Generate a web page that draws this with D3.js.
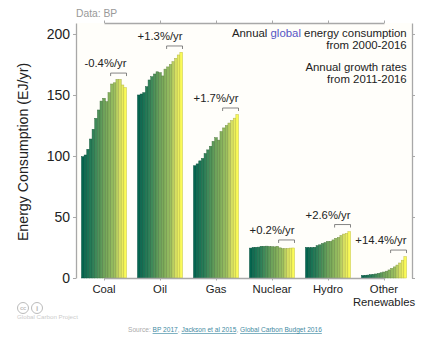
<!DOCTYPE html>
<html>

<head>
  <title>Global energy consumption</title>
  <script src="https://cdn.jsdelivr.net/npm/d3@7"></script>
  <style>
    html, body { margin: 0; padding: 0; background: #fff; }
    svg { display: block; font-family: "Liberation Sans", Arial, sans-serif; }
  </style>
</head>

<body>
  <svg width="444" height="354" id="chart"></svg>
  <script>
    const categories = ['Coal', 'Oil', 'Gas', 'Nuclear', 'Hydro', 'Other Renewables'];
    const years = [2000, 2001, 2002, 2003, 2004, 2005, 2006, 2007, 2008, 2009, 2010, 2011, 2012, 2013, 2014, 2015, 2016];

    // EJ/yr
    const coal = [99.4, 100.8, 105.5, 113.9, 121.9, 130.9, 137.7, 145, 147.3, 144.5, 151.9, 159, 160, 162.8, 162.8, 158.2, 156];
    const oil = [150, 150.8, 151.9, 156.8, 162.3, 165, 167.2, 169, 168.3, 165.6, 171.2, 173, 175, 177.3, 180, 182.8, 185];
    const gas = [92, 93.5, 96, 98, 102, 105, 108, 112, 115, 113, 120, 123, 125, 127, 129, 131, 134];
    const nuclear = [24.5, 25, 25.2, 25.3, 26, 26, 26.1, 25.8, 25.7, 25.5, 26, 24.7, 24, 24, 24.2, 24.5, 24.6];
    const hydro = [25, 24.8, 25, 25.2, 26.5, 27.2, 28.3, 29, 30, 30, 31.2, 32.5, 33.2, 34.8, 36, 36.5, 38];
    const renewables = [2, 2.2, 2.4, 2.7, 3, 3.3, 3.8, 4.3, 4.9, 5.6, 6.6, 7.9, 9.1, 10.6, 12.3, 14.6, 17.5];
    const seriesValues = [coal, oil, gas, nuclear, hydro, renewables];

    const growthLabels = ['-0.4%/yr', '+1.3%/yr', '+1.7%/yr', '+0.2%/yr', '+2.6%/yr', '+14.4%/yr'];
    const growthFrom = 2011;
    const yTicks = [0, 50, 100, 150, 200];
    const colorYears = [2000, 2004, 2008, 2012, 2014, 2016];
    const colorStops = ['#056650', '#2f8259', '#6ea35a', '#9dc05f', '#d6df62', '#fbfb58'];
    const bracketGaps = [3.3, 3.3, 3.5, 4.9, 4.1, 3.6];

    const svg = d3.select('#chart');
    const margin = { top: 23, right: 32, bottom: 76, left: 76 };
    const innerWidth = 444 - margin.left - margin.right;
    const innerHeight = 354 - margin.top - margin.bottom;
    const mainGroup = svg.append('g')
      .attr('transform', `translate(${margin.left}, ${margin.top})`);

    const xScale = d3.scaleBand().domain(categories).range([0, innerWidth]).paddingInner(0.196).paddingOuter(0.098);
    const yearScale = d3.scaleBand().domain(years).range([0, xScale.bandwidth()]);
    const yScale = d3.scaleLinear().domain([0, 209]).range([innerHeight, 0]);
    const colorScale = d3.scaleLinear().domain(colorYears).range(colorStops);

    mainGroup.append('rect')
      .attr('width', innerWidth)
      .attr('height', innerHeight)
      .attr('fill', '#fffefa');

    // bars
    const groups = mainGroup.selectAll('.cat')
      .data(categories)
      .join('g')
      .attr('class', 'cat')
      .attr('transform', d => `translate(${xScale(d)}, 0)`);

    groups.selectAll('rect')
      .data((d, i) => seriesValues[i].map((v, j) => ({ year: years[j], value: v })))
      .join('rect')
      .attr('x', d => yearScale(d.year))
      .attr('width', yearScale.bandwidth())
      .attr('y', d => yScale(d.value))
      .attr('height', d => innerHeight - yScale(d.value))
      .attr('fill', d => colorScale(d.year))
      .attr('stroke', d => d3.color(colorScale(d.year)).darker(0.7))
      .attr('stroke-width', 0.5);

    // axes, all four sides with outward ticks, labels only on the left
    const axisColor = '#a8a8a8';
    const styleAxis = g => {
      g.selectAll('.domain').attr('stroke', axisColor).attr('stroke-width', 1.3);
      g.selectAll('.tick line').attr('stroke', axisColor);
    };
    const noLabels = g => g.selectAll('.tick text').remove();
    const xCenter = d3.scalePoint().domain(categories)
      .range([xScale(categories[0]) + xScale.bandwidth() / 2, xScale(categories[5]) + xScale.bandwidth() / 2]);

    mainGroup.append('g').attr('transform', `translate(0, ${innerHeight})`)
      .call(d3.axisBottom(xCenter).tickSize(2.5).tickSizeOuter(0))
      .call(styleAxis).call(noLabels);
    mainGroup.append('g')
      .call(d3.axisTop(xCenter).tickSize(2.5).tickSizeOuter(0))
      .call(styleAxis).call(noLabels);
    mainGroup.append('g').attr('transform', `translate(${innerWidth}, 0)`)
      .call(d3.axisRight(yScale).tickValues(yTicks).tickSize(3).tickSizeOuter(0))
      .call(styleAxis).call(noLabels);
    mainGroup.append('g')
      .call(d3.axisLeft(yScale).tickValues(yTicks).tickSize(3).tickSizeOuter(0).tickPadding(3))
      .call(styleAxis)
      .call(g => g.selectAll('text').attr('font-size', 14).attr('font-family', 'inherit').attr('fill', '#222'));

    // category labels
    const catLabels = mainGroup.selectAll('.cat-label')
      .data(categories)
      .join('text')
      .attr('class', 'cat-label')
      .attr('text-anchor', 'middle')
      .attr('font-size', 11.3)
      .attr('fill', '#222')
      .attr('y', innerHeight + 15);
    catLabels.selectAll('tspan')
      .data(d => d === 'Other Renewables' ? ['Other', 'Renewables'].map(t => ({ t, c: d })) : [{ t: d, c: d }])
      .join('tspan')
      .attr('x', d => xCenter(d.c))
      .attr('dy', (d, i) => i ? 13 : 0)
      .text(d => d.t);

    // growth brackets over the last six bars
    const growth = mainGroup.selectAll('.growth')
      .data(categories)
      .join('g')
      .attr('class', 'growth')
      .attr('transform', d => `translate(${xScale(d)}, 0)`);
    const bracketY = (d, i) => yScale(d3.max(seriesValues[i].slice(-6))) - bracketGaps[i];
    const bx0 = yearScale(growthFrom);
    const bx1 = yearScale(years[years.length - 1]) + yearScale.bandwidth();
    growth.append('path')
      .attr('fill', 'none')
      .attr('stroke', '#666')
      .attr('stroke-width', 0.8)
      .attr('d', (d, i) => {
        const y = bracketY(d, i);
        return `M${bx0},${y}V${y - 3}H${bx1}V${y}`;
      });
    growth.append('text')
      .attr('x', bx1)
      .attr('y', (d, i) => bracketY(d, i) - 9)
      .attr('text-anchor', 'end')
      .attr('font-size', 11.3)
      .attr('fill', '#222')
      .text((d, i) => growthLabels[i]);

    // notes in the top right corner
    const notes = svg.append('g')
      .attr('text-anchor', 'end')
      .attr('font-size', 11.4)
      .attr('fill', '#222');
    const line1 = notes.append('text').attr('x', 406.7).attr('y', 36.7);
    line1.append('tspan').text('Annual ');
    line1.append('tspan').attr('fill', '#5555c4').text('global');
    line1.append('tspan').text(' energy consumption');
    notes.append('text').attr('x', 406.7).attr('y', 48.7).text('from 2000-2016');
    notes.append('text').attr('x', 406.7).attr('y', 71.3).text('Annual growth rates');
    notes.append('text').attr('x', 406.7).attr('y', 83.3).text('from 2011-2016');

    svg.append('text')
      .attr('x', 76).attr('y', 17)
      .attr('font-size', 10.3)
      .attr('fill', '#999')
      .text('Data: BP');

    svg.append('text')
      .attr('transform', 'translate(28, 152) rotate(-90)')
      .attr('text-anchor', 'middle')
      .attr('font-size', 14.2)
      .attr('fill', '#222')
      .text('Energy Consumption (EJ/yr)');

    // licence badges and credit
    const badge = svg.append('g').attr('fill', 'none').attr('stroke', '#bbb').attr('stroke-width', 1);
    badge.selectAll('circle')
      .data([23, 37])
      .join('circle')
      .attr('cx', d => d)
      .attr('cy', 308)
      .attr('r', 5.5);
    svg.append('text').attr('x', 23).attr('y', 310).attr('text-anchor', 'middle')
      .attr('font-size', 5.5).attr('font-weight', 'bold').attr('fill', '#bbb').text('cc');
    svg.append('text').attr('x', 37).attr('y', 311).attr('text-anchor', 'middle')
      .attr('font-size', 8).attr('font-weight', 'bold').attr('fill', '#bbb').text('i');
    svg.append('text')
      .attr('x', 17).attr('y', 318.5)
      .attr('font-size', 6.2)
      .attr('fill', '#ccc')
      .text('Global Carbon Project');

    const source = svg.append('text')
      .attr('x', 128).attr('y', 332)
      .attr('font-size', 6.6)
      .attr('fill', '#aaa');
    source.append('tspan').text('Source: ');
    source.append('tspan').attr('fill', '#3f8ba3').attr('text-decoration', 'underline').text('BP 2017');
    source.append('tspan').text(', ');
    source.append('tspan').attr('fill', '#3f8ba3').attr('text-decoration', 'underline').text('Jackson et al 2015');
    source.append('tspan').text(', ');
    source.append('tspan').attr('fill', '#3f8ba3').attr('text-decoration', 'underline').text('Global Carbon Budget 2016');
  </script>
</body>

</html>
